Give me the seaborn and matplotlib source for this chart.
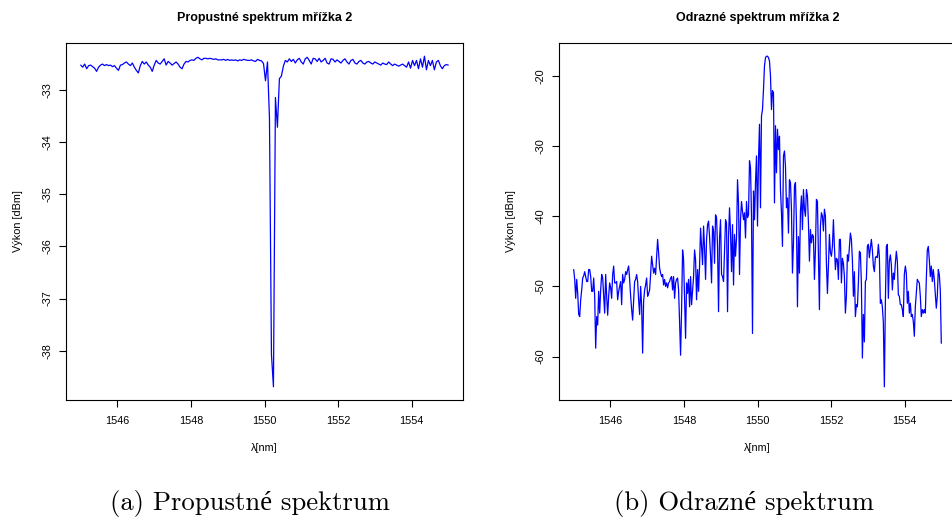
import numpy as np
import pandas as pd
import matplotlib
matplotlib.use("Agg")
import matplotlib.pyplot as plt
import seaborn as sns

# Wavelength sweep of the optical spectrum analyser (nm)
WL_START, WL_STOP = 1545.0, 1555.0

# Transmitted power (dBm): flat part before the grating notch
trans_before = [
    -32.53, -32.57, -32.51, -32.60, -32.54, -32.53, -32.56, -32.59, -32.65, -32.57,
    -32.53, -32.51, -32.54, -32.52, -32.54, -32.53, -32.56, -32.54, -32.59, -32.63,
    -32.53, -32.52, -32.49, -32.47, -32.51, -32.54, -32.49, -32.57, -32.63, -32.68,
    -32.54, -32.46, -32.51, -32.47, -32.53, -32.57, -32.65, -32.53, -32.44, -32.49,
    -32.51, -32.46, -32.41, -32.53, -32.46, -32.49, -32.53, -32.50, -32.47, -32.51,
    -32.57, -32.60, -32.51, -32.46, -32.47, -32.44, -32.43, -32.44, -32.40, -32.38,
    -32.41, -32.43, -32.40, -32.40, -32.41, -32.40, -32.41, -32.42, -32.41, -32.43,
    -32.43, -32.43, -32.42, -32.44, -32.42, -32.44, -32.43, -32.44, -32.43, -32.45,
    -32.43, -32.44, -32.42, -32.43, -32.44, -32.44, -32.43, -32.45,
]
# Notch around the Bragg wavelength
trans_notch = [
    -32.46, -32.42, -32.44, -32.45, -32.50, -32.83, -32.47, -33.55, -38.07, -38.69,
    -33.15, -33.72, -32.79, -32.74,
]
# Flat part after the notch
trans_after = [
    -32.55, -32.44, -32.47, -32.41, -32.46, -32.42, -32.49, -32.43, -32.40, -32.47,
    -32.51, -32.41, -32.38, -32.44, -32.51, -32.40, -32.41, -32.46, -32.40, -32.47,
    -32.44, -32.40, -32.49, -32.51, -32.41, -32.42, -32.47, -32.43, -32.46, -32.49,
    -32.44, -32.41, -32.47, -32.51, -32.44, -32.42, -32.49, -32.51, -32.46, -32.44,
    -32.49, -32.51, -32.47, -32.46, -32.49, -32.51, -32.47, -32.49, -32.51, -32.53,
    -32.49, -32.51, -32.52, -32.47, -32.51, -32.54, -32.51, -32.53, -32.55, -32.53,
    -32.51, -32.54, -32.57, -32.47, -32.59, -32.44, -32.54, -32.44, -32.60, -32.41,
    -32.57, -32.36, -32.62, -32.44, -32.54, -32.44, -32.62, -32.47, -32.44, -32.54,
    -32.60, -32.54, -32.52, -32.53,
]

# Reflected power (dBm), in four consecutive stretches of the sweep
refl_1545 = [
    -47.6, -49.0, -51.7, -49.0, -51.0, -54.0, -54.3, -51.9, -50.5, -48.8,
    -48.5, -47.9, -48.6, -49.3, -49.3, -47.6, -47.6, -48.6, -50.7, -50.7,
    -48.8, -51.4, -58.8, -54.3, -55.5, -50.7, -53.8, -50.5, -48.3, -48.8,
    -51.4, -53.8, -48.3, -51.4, -54.1, -51.4, -49.5, -50.2, -51.7, -48.3,
    -47.1, -49.5, -49.5, -49.3, -51.9, -50.7, -50.0, -49.3, -52.6, -48.3,
    -49.5, -49.0, -47.9, -48.3, -47.6, -47.1, -49.0, -51.4, -53.3, -54.8,
    -51.9, -49.3, -49.0, -48.3, -49.3, -51.9, -54.0, -50.0, -52.8, -59.5,
    -52.1, -50.5, -49.8, -48.8, -51.4, -51.0, -50.5, -48.3, -45.7, -46.9,
    -48.1, -47.4, -48.3, -45.7, -43.3, -45.2, -47.4, -48.1, -48.6, -48.3,
]
refl_1547 = [
    -49.8, -49.0, -50.0, -49.5, -50.2, -49.5, -49.3, -48.8, -48.6, -50.5,
    -48.6, -51.7, -49.5, -49.0, -48.8, -50.5, -55.2, -59.8, -53.3, -44.8,
    -46.2, -51.9, -57.4, -49.5, -51.0, -49.0, -52.9, -48.6, -52.6, -50.5,
    -48.6, -44.8, -46.2, -51.9, -47.6, -50.7, -47.1, -41.7, -44.3, -46.9,
    -41.4, -44.5, -49.0, -43.3, -41.2, -40.7, -42.9, -45.7, -49.5, -41.4,
    -42.1, -46.7, -39.8, -40.2, -44.3, -53.6, -43.1, -40.5, -48.3, -48.6,
    -49.3, -44.8, -40.5, -41.0, -53.6, -42.9, -38.8, -42.4, -47.9, -41.2,
    -49.8, -42.6, -45.7, -43.1, -34.8, -38.1, -48.3, -40.5, -37.9, -39.3,
    -40.5, -39.5, -43.1, -37.9, -40.2, -39.8, -32.1, -33.1, -40.0, -56.7,
    -36.4, -40.5, -35.2, -31.4, -41.4, -31.9,
]
refl_1550 = [
    -26.9, -38.8, -25.7, -24.8, -21.9, -18.6, -17.4, -17.2, -17.2, -17.4,
    -17.9, -20.0, -24.8, -22.1, -22.4, -38.1, -27.1, -33.8, -27.6, -30.5,
    -28.6, -36.2, -39.5, -44.3, -31.4, -30.7, -32.9, -38.8, -37.4, -42.4,
    -34.8, -35.2, -39.0, -48.1, -43.8, -35.7, -35.2, -41.0, -52.9, -42.9,
    -48.1, -39.3, -37.1, -41.9, -36.2, -39.0, -40.0, -36.2, -37.1, -41.0,
    -46.4, -41.9, -43.8, -42.6, -42.9, -49.0, -44.8, -37.6, -37.9, -45.7,
    -53.3, -41.4, -39.5, -40.0, -42.1, -39.0, -40.0, -46.7, -51.0, -47.1,
    -42.6, -45.2, -45.7, -44.3, -40.5, -44.3, -47.6, -46.0, -46.2, -49.0,
    -43.3, -43.3, -49.5, -46.0, -46.7, -48.6, -53.8, -51.4, -45.5, -46.4,
]
refl_1552 = [
    -44.3, -42.4, -43.3, -46.2, -51.4, -47.9, -54.3, -52.6, -52.9, -49.5,
    -45.0, -45.2, -49.5, -60.2, -54.0, -57.9, -49.3, -49.0, -44.3, -44.0,
    -45.9, -44.5, -43.3, -44.8, -47.1, -47.9, -45.9, -45.7, -45.9, -44.0,
    -45.7, -52.4, -51.9, -52.9, -55.2, -64.3, -52.4, -44.3, -44.0, -51.7,
    -46.4, -45.5, -46.9, -50.5, -48.1, -49.0, -46.7, -45.0, -46.4, -51.2,
    -51.4, -52.6, -52.6, -53.3, -54.3, -48.3, -47.1, -48.1, -52.4, -50.7,
    -53.8, -52.4, -54.3, -54.0, -55.0, -57.1, -52.9, -51.0, -49.0, -49.3,
    -49.5, -51.4, -54.3, -53.3, -53.8, -53.3, -53.8, -49.0, -44.8, -44.3,
    -46.2, -48.6, -47.1, -49.3, -47.6, -49.0, -51.0, -53.1, -51.4, -47.6,
    -48.3, -50.5, -58.1,
]

x_ticks = [1546, 1548, 1550, 1552, 1554]
trans_yticks = [-38, -37, -36, -35, -34, -33]
refl_yticks = [-60, -50, -40, -30, -20]

titles = ["Propustné spektrum mřížka 2", "Odrazné spektrum mřížka 2"]
captions = ["(a) Propustné spektrum", "(b) Odrazné spektrum"]
x_label = "λ[nm]"
y_label = "Výkon [dBm]"

transmission = np.array(trans_before + trans_notch + trans_after)
reflection = np.array(refl_1545 + refl_1547 + refl_1550 + refl_1552)

df_t = pd.DataFrame({"wl": np.linspace(WL_START, WL_STOP, len(transmission)),
                     "p": transmission})
df_r = pd.DataFrame({"wl": np.linspace(WL_START, WL_STOP, len(reflection)),
                     "p": reflection})

sns.set_style("white")
plt.rcParams["font.family"] = ["Liberation Sans", "DejaVu Sans"]
plt.rcParams["axes.unicode_minus"] = False
plt.rcParams["text.color"] = "black"
plt.rcParams["axes.labelcolor"] = "black"
plt.rcParams["axes.titlecolor"] = "black"

W, H = 952, 520
fig = plt.figure(figsize=(W / 100, H / 100), dpi=100)


def rect(left, top, right, bottom):
    return [left / W, 1 - bottom / H, (right - left) / W, (bottom - top) / H]


def r_limits(values):
    lo, hi = float(np.min(values)), float(np.max(values))
    pad = (hi - lo) * 0.04
    return lo - pad, hi + pad


panels = [
    (rect(66, 43, 463, 400), df_t, trans_yticks, titles[0]),
    (rect(559, 43, 956, 400), df_r, refl_yticks, titles[1]),
]

for box, df, yticks, title in panels:
    ax = fig.add_axes(box)
    sns.lineplot(data=df, x="wl", y="p", ax=ax, color="#0000ff",
                 linewidth=0.9, estimator=None, sort=False)
    ax.set_xlim(r_limits(df["wl"]))
    ax.set_ylim(r_limits(df["p"]))
    ax.set_xticks(x_ticks)
    ax.set_yticks(yticks)
    ax.set_xticklabels([str(t) for t in x_ticks])
    ax.set_yticklabels([str(t) for t in yticks])
    for s in ax.spines.values():
        s.set_visible(True)
        s.set_color("black")
        s.set_linewidth(0.8)
    ax.tick_params(axis="both", direction="out", length=5.3, width=0.8,
                   color="black", labelsize=7.8, labelcolor="black",
                   bottom=True, left=True)
    ax.tick_params(axis="x", pad=6)
    ax.tick_params(axis="y", pad=4.5, labelrotation=90)
    for lab in ax.get_yticklabels():
        lab.set_va("center")
    ax.set_title(title, fontsize=9, fontweight="bold", pad=16, color="black")
    ax.set_xlabel(x_label, fontsize=7.8, color="black")
    ax.set_ylabel(y_label, fontsize=7.8, color="black")
    ax.xaxis.set_label_coords(0.5, -(448 - 400) / 357)
    ax.xaxis.label.set_va("center")
    ax.yaxis.set_label_coords(-(66 - 18.5) / 397, 0.5)
    ax.yaxis.label.set_va("center")

serif = ["cmr10", "Liberation Serif", "DejaVu Serif"]
fig.text(250 / W, 1 - 510 / H, captions[0], ha="center", va="baseline",
         fontsize=19.2, family=serif, color="black")
fig.text(744 / W, 1 - 510 / H, captions[1], ha="center", va="baseline",
         fontsize=19.2, family=serif, color="black")

fig.savefig("out.png", dpi=100)
